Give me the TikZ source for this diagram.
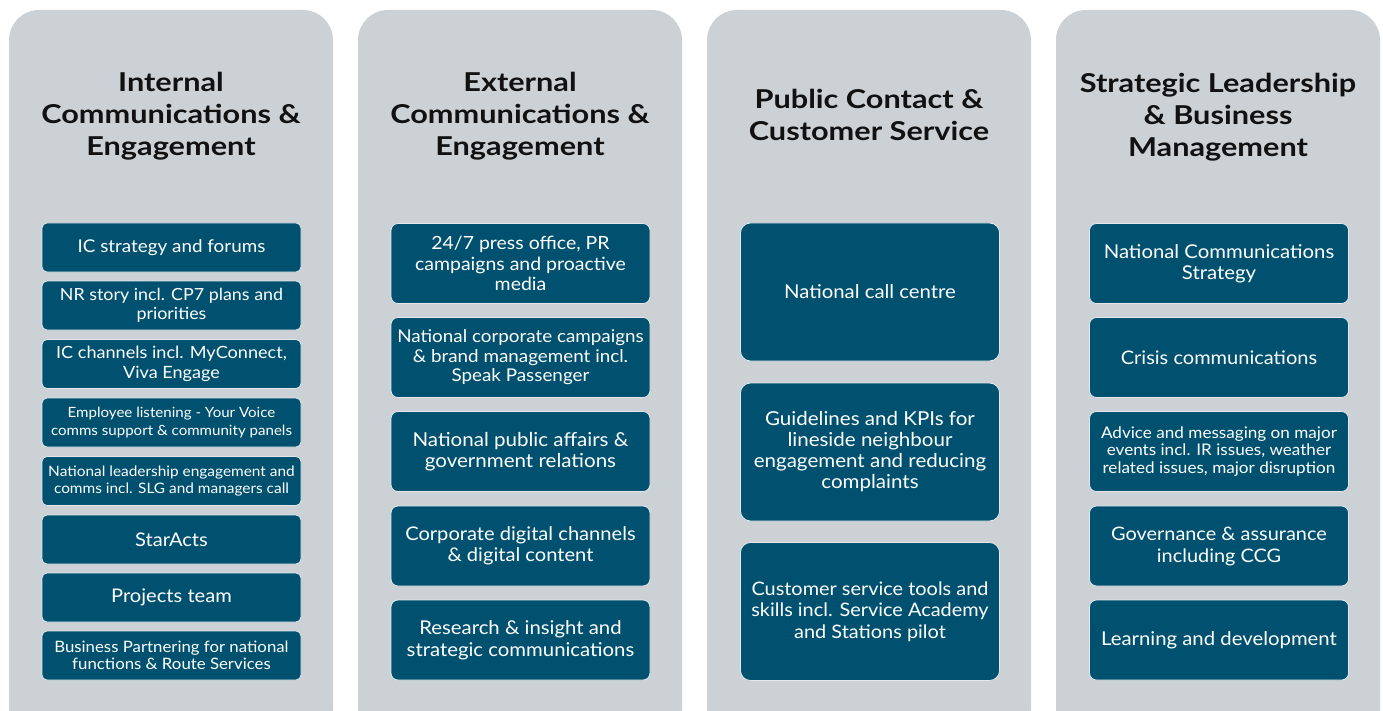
\documentclass[tikz,border=0pt]{standalone}
\usepackage{fontspec}
\setmainfont{Lato}[FakeStretch=1.07]
\newfontfamily\headfont{Lato}[FakeStretch=1.18]
\usetikzlibrary{positioning}
\definecolor{panelgrey}{RGB}{204,209,213}
\definecolor{railteal}{RGB}{0,81,111}
\definecolor{edgegrey}{RGB}{226,232,236}
\definecolor{headink}{RGB}{17,17,17}
\tikzset{
    panel/.style={
        fill=panelgrey,
        rounded corners=30pt,
        minimum width=324pt,
        minimum height=730pt,
        inner sep=0pt
    },
    heading/.style={
        font=\headfont\bfseries\fontsize{26}{32}\selectfont,
        text=headink,
        align=center
    },
    item/.style={
        draw=edgegrey,
        line width=0.8pt,
        fill=railteal,
        text=white,
        align=center,
        minimum width=259pt,
        inner sep=0pt
    },
    slim/.style={item, rounded corners=5pt, minimum height=49pt},
    mid/.style={item, rounded corners=7pt, minimum height=80pt},
    tall/.style={item, rounded corners=10pt, minimum height=138pt},
    fsz/.style 2 args={font=\fontsize{#1}{#2}\selectfont}
}

\begin{document}
\begin{tikzpicture}[x=1pt, y=-1pt]

\useasboundingbox (0,0) rectangle (1383,711);
\clip (0,0) rectangle (1383,711);

% Grey panels, running off the bottom edge
\node[panel] (p1) at (171,375) {};
\node[panel] (p2) at (520,375) {};
\node[panel] (p3) at (869,375) {};
\node[panel] (p4) at (1218,375) {};

% Panel headings
\node[heading] (h1) at (171,116) {Internal\\Communications \&\\Engagement};
\node[heading] (h2) at (520,116) {External\\Communications \&\\Engagement};
\node[heading] (h3) at (869,115) {Public Contact \&\\Customer Service};
\node[heading] (h4) at (1218,117.5) {Strategic Leadership\\\& Business\\Management};

% Internal communications
\node[slim, fsz={17.6}{20}] (ic1) at (171.5,247.5) {IC strategy and forums};
\node[slim, fsz={16.7}{19.5}] (ic2) at (171.5,305.5) {NR story incl. CP7 plans and\\priorities};
\node[slim, fsz={16.9}{19.5}] (ic3) at (171.5,364) {IC channels incl. MyConnect,\\Viva Engage};
\node[slim, fsz={14.1}{17.5}] (ic4) at (171.5,422.5) {Employee listening - Your Voice\\comms support \& community panels};
\node[slim, fsz={14.4}{17.5}] (ic5) at (171.5,481) {National leadership engagement and\\comms incl. SLG and managers call};
\node[slim, fsz={18.8}{20}] (ic6) at (171.5,539.5) {StarActs};
\node[slim, fsz={18.8}{20}] (ic7) at (171.5,597.5) {Projects team};
\node[slim, fsz={15.7}{17.5}] (ic8) at (171.5,655.5) {Business Partnering for national\\functions \& Route Services};

% External communications
\node[mid, fsz={18.2}{20.5}] (ec1) at (520.5,263.5) {24/7 press office, PR\\campaigns and proactive\\media};
\node[mid, fsz={17.6}{19.5}] (ec2) at (520.5,357.5) {National corporate campaigns\\\& brand management incl.\\Speak Passenger};
\node[mid, fsz={19.2}{21.5}] (ec3) at (520.5,451.5) {National public affairs \&\\government relations};
\node[mid, fsz={18.8}{21.5}] (ec4) at (520.5,546) {Corporate digital channels\\\& digital content};
\node[mid, fsz={19}{21.5}] (ec5) at (520.5,640) {Research \& insight and\\strategic communications};

% Public contact
\node[tall, fsz={19}{21}] (pc1) at (870,292) {National call centre};
\node[tall, fsz={19.2}{21}] (pc2) at (870,452) {Guidelines and KPIs for\\lineside neighbour\\engagement and reducing\\complaints};
\node[tall, fsz={18.6}{21.5}] (pc3) at (870,611.5) {Customer service tools and\\skills incl. Service Academy\\and Stations pilot};

% Strategic leadership
\node[mid, fsz={19}{21}] (sl1) at (1219,263.5) {National Communications\\Strategy};
\node[mid, fsz={18.7}{21}] (sl2) at (1219,357.5) {Crisis communications};
\node[mid, fsz={16}{17.5}] (sl3) at (1219,451.5) {Advice and messaging on major\\events incl. IR issues, weather\\related issues, major disruption};
\node[mid, fsz={18.6}{22}] (sl4) at (1219,546) {Governance \& assurance\\including CCG};
\node[mid, fsz={19}{21}] (sl5) at (1219,640) {Learning and development};

\end{tikzpicture}
\end{document}
